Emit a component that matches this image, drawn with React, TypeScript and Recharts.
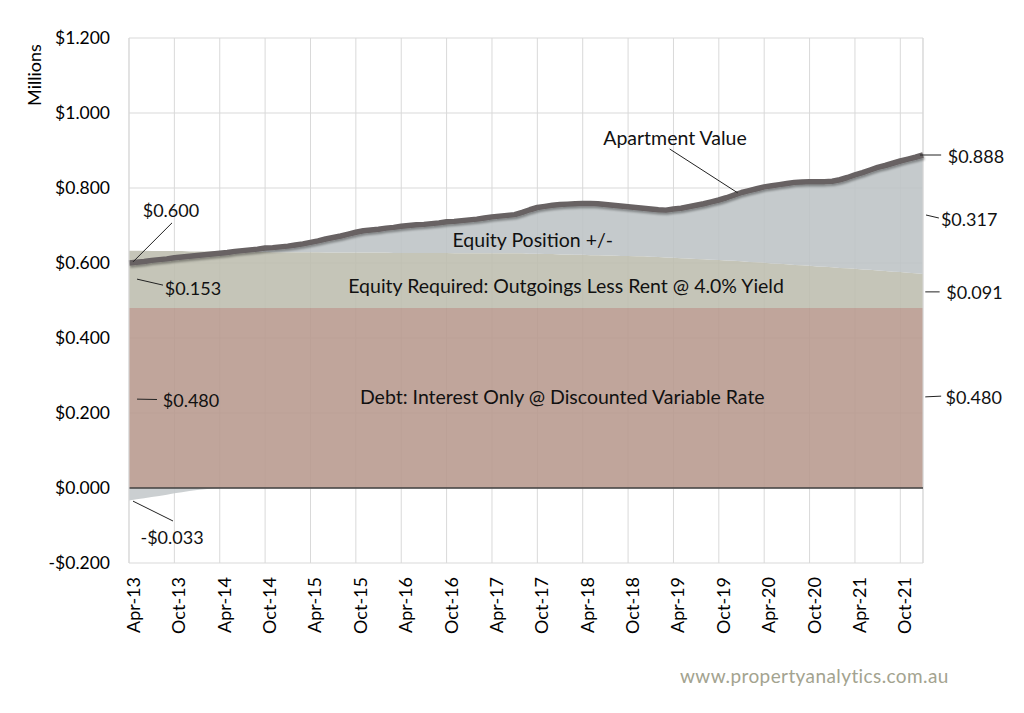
import React from "react";
import {
  ComposedChart,
  Area,
  Line,
  XAxis,
  YAxis,
  CartesianGrid,
  ReferenceLine,
  ReferenceDot,
} from "recharts";

// monthly, Apr-13 .. Jan-22 (106 points), $ millions
const APARTMENT_VALUE = [
  0.600, 0.602, 0.604, 0.607, 0.609, 0.611, 0.614, 0.616, 0.618, 0.620,
  0.622, 0.624, 0.626, 0.628, 0.631, 0.633, 0.635, 0.637, 0.640, 0.641,
  0.643, 0.645, 0.648, 0.651, 0.655, 0.659, 0.664, 0.668, 0.672, 0.677,
  0.682, 0.686, 0.688, 0.690, 0.693, 0.695, 0.698, 0.700, 0.702, 0.703,
  0.705, 0.707, 0.710, 0.711, 0.713, 0.715, 0.717, 0.720, 0.723, 0.725,
  0.727, 0.729, 0.735, 0.742, 0.748, 0.751, 0.754, 0.756, 0.757, 0.758,
  0.759, 0.759, 0.758, 0.756, 0.754, 0.752, 0.750, 0.748, 0.746, 0.744,
  0.742, 0.741, 0.744, 0.746, 0.750, 0.754, 0.758, 0.763, 0.768, 0.774,
  0.781, 0.788, 0.793, 0.798, 0.803, 0.806, 0.809, 0.812, 0.815, 0.816,
  0.817, 0.817, 0.817, 0.818, 0.822, 0.828, 0.835, 0.841, 0.848, 0.855,
  0.860, 0.866, 0.872, 0.877, 0.882, 0.888,
];

// equity required: outgoings less rent
const EQUITY_REQUIRED = [
  0.153, 0.153, 0.153, 0.152, 0.152, 0.152, 0.152, 0.152, 0.151, 0.151, 0.151,
  0.151, 0.151, 0.150, 0.150, 0.150, 0.150, 0.150, 0.150, 0.149, 0.149, 0.149,
  0.149, 0.149, 0.149, 0.149, 0.148, 0.148, 0.148, 0.148, 0.148, 0.148, 0.148,
  0.148, 0.148, 0.147, 0.147, 0.147, 0.147, 0.147, 0.147, 0.147, 0.147, 0.146,
  0.146, 0.146, 0.146, 0.146, 0.146, 0.146, 0.146, 0.146, 0.146, 0.145, 0.145,
  0.144, 0.144, 0.143, 0.143, 0.142, 0.142, 0.141, 0.141, 0.140, 0.140, 0.139,
  0.139, 0.138, 0.138, 0.137, 0.136, 0.135, 0.134, 0.133, 0.132, 0.131, 0.130,
  0.129, 0.128, 0.127, 0.126, 0.125, 0.123, 0.122, 0.121, 0.119, 0.118, 0.117,
  0.115, 0.114, 0.113, 0.111, 0.110, 0.109, 0.107, 0.106, 0.105, 0.103, 0.102,
  0.100, 0.099, 0.097, 0.096, 0.094, 0.093, 0.091,
];

// negative equity at the start (below zero)
const EQUITY_NEGATIVE = [
  -0.033, -0.030, -0.027, -0.024, -0.021, -0.018, -0.014, -0.011, -0.008, -0.005,
  -0.003, -0.001, 0,
];

const DEBT = 0.48;

const TICK_LABELS = [
  "Apr-13", "Oct-13", "Apr-14", "Oct-14", "Apr-15", "Oct-15", "Apr-16", "Oct-16", "Apr-17",
  "Oct-17", "Apr-18", "Oct-18", "Apr-19", "Oct-19", "Apr-20", "Oct-20", "Apr-21", "Oct-21",
];
const X_TICKS = TICK_LABELS.map((_, i) => i * 6);
const Y_TICKS = [-0.2, 0, 0.2, 0.4, 0.6, 0.8, 1.0, 1.2];

const FONT = "Lato, 'Open Sans', sans-serif";

const data = APARTMENT_VALUE.map((v, i) => {
  const req = EQUITY_REQUIRED[i];
  const neg = i < EQUITY_NEGATIVE.length ? EQUITY_NEGATIVE[i] : 0;
  return {
    i,
    value: v,
    debt: DEBT,
    req,
    pos: Math.max(v - DEBT - req, 0),
    neg,
  };
});

const money = (v: number) => (v < 0 ? "-$" : "$") + Math.abs(v).toFixed(3);

const XTick = ({ x, y, payload }: any) => (
  <text
    transform={`translate(${x},${y + 14}) rotate(-90)`}
    textAnchor="end"
    dy={11}
    fontSize={18}
    fontFamily={FONT}
    fill="#000"
  >
    {TICK_LABELS[Math.round(payload.value / 6)]}
  </text>
);

// leader lines for the value callouts
const LEADERS = [
  [[0.53, 0.603], [5.69, 0.707]],
  [[1.06, 0.557], [4.5, 0.541]],
  [[1.06, 0.237], [3.7, 0.236]],
  [[0.53, -0.035], [5.82, -0.088]],
  [[104.6, 0.888], [107.4, 0.888]],
  [[105.4, 0.728], [107.1, 0.72]],
  [[105.3, 0.523], [107.2, 0.523]],
  [[105.3, 0.243], [107.4, 0.245]],
  [[71.5, 0.904], [80.5, 0.787]],
];

const CALLOUTS = [
  { x: 5.55, y: 0.741, text: "$0.600", size: 18 },
  { x: 8.46, y: 0.533, text: "$0.153", size: 18 },
  { x: 8.2, y: 0.232, text: "$0.480", size: 18 },
  { x: 5.69, y: -0.133, text: "-$0.033", size: 18 },
  { x: 112.0, y: 0.885, text: "$0.888", size: 18 },
  { x: 111.1, y: 0.715, text: "$0.317", size: 18 },
  { x: 111.8, y: 0.52, text: "$0.091", size: 18 },
  { x: 111.7, y: 0.24, text: "$0.480", size: 18 },
  { x: 72.2, y: 0.933, text: "Apartment Value", size: 19.5 },
  { x: 53.4, y: 0.661, text: "Equity Position +/-", size: 19.5 },
  { x: 57.8, y: 0.539, text: "Equity Required: Outgoings Less Rent @ 4.0% Yield", size: 19.5 },
  { x: 57.3, y: 0.243, text: "Debt: Interest Only @ Discounted Variable Rate", size: 19.5 },
];

export default function App() {
  return (
    <div style={{ position: "absolute", left: 0, top: 0, width: 1024, height: 713, background: "#fff" }}>
      <ComposedChart
        width={1024}
        height={713}
        data={data}
        margin={{ top: 38, right: 101, bottom: 0, left: 0 }}
      >
        <defs>
          <filter id="lineShadow" x="-5%" y="-20%" width="110%" height="140%">
            <feDropShadow dx="1" dy="2" stdDeviation="1.2" floodColor="#000" floodOpacity="0.35" />
          </filter>
        </defs>
        <CartesianGrid stroke="#D9D9D9" strokeWidth={1} />
        <XAxis
          dataKey="i"
          type="number"
          domain={[0, 105]}
          ticks={X_TICKS}
          interval={0}
          height={150}
          axisLine={false}
          tickLine={false}
          tickSize={0}
          tickMargin={0}
          tick={<XTick />}
        />
        <YAxis
          type="number"
          domain={[-0.2, 1.2]}
          ticks={Y_TICKS}
          interval={0}
          width={129}
          axisLine={{ stroke: "#D9D9D9" }}
          tickLine={false}
          tickSize={0}
          tickMargin={19}
          tickFormatter={money}
          tick={{ fontSize: 17.5, fontFamily: FONT, fill: "#000" }}
        />
        <Area
          type="linear"
          dataKey="debt"
          stackId="a"
          stroke="none"
          fill="#B7998D"
          fillOpacity={0.88}
          isAnimationActive={false}
        />
        <Area
          type="linear"
          dataKey="req"
          stackId="a"
          stroke="none"
          fill="#BDBDAE"
          fillOpacity={0.88}
          isAnimationActive={false}
        />
        <Area
          type="linear"
          dataKey="pos"
          stackId="a"
          stroke="none"
          fill="#BDC3C5"
          fillOpacity={0.88}
          isAnimationActive={false}
        />
        <Area
          type="linear"
          dataKey="neg"
          baseValue={0}
          stroke="none"
          fill="#C4C8CB"
          fillOpacity={0.88}
          isAnimationActive={false}
        />
        <ReferenceLine x={105} stroke="#D9D9D9" />
        <ReferenceLine y={0} stroke="#404040" strokeWidth={1.5} />
        <Line
          type="linear"
          dataKey="value"
          stroke="#676263"
          strokeWidth={5.5}
          strokeLinejoin="round"
          dot={false}
          filter="url(#lineShadow)"
          isAnimationActive={false}
        />
        {LEADERS.map((seg, k) => (
          <ReferenceLine
            key={"l" + k}
            segment={[
              { x: seg[0][0], y: seg[0][1] },
              { x: seg[1][0], y: seg[1][1] },
            ]}
            stroke="#222"
            strokeWidth={1}
            ifOverflow="visible"
          />
        ))}
        {CALLOUTS.map((c, k) => (
          <ReferenceDot
            key={"c" + k}
            x={c.x}
            y={c.y}
            r={1}
            fill="none"
            stroke="none"
            ifOverflow="visible"
            label={{
              value: c.text,
              position: "center",
              fontSize: c.size,
              fontFamily: FONT,
              fill: "#111",
            }}
          />
        ))}
      </ComposedChart>
      <div
        style={{
          position: "absolute",
          left: 34,
          top: 75,
          transform: "translate(-50%, -50%) rotate(-90deg)",
          fontFamily: FONT,
          fontSize: 18,
          color: "#000",
          whiteSpace: "nowrap",
        }}
      >
        Millions
      </div>
      <div
        style={{
          position: "absolute",
          left: 680,
          top: 664,
          fontFamily: FONT,
          fontSize: 19,
          color: "#A3A38F",
          whiteSpace: "nowrap",
          letterSpacing: 0.4,
        }}
      >
        www.propertyanalytics.com.au
      </div>
    </div>
  );
}
